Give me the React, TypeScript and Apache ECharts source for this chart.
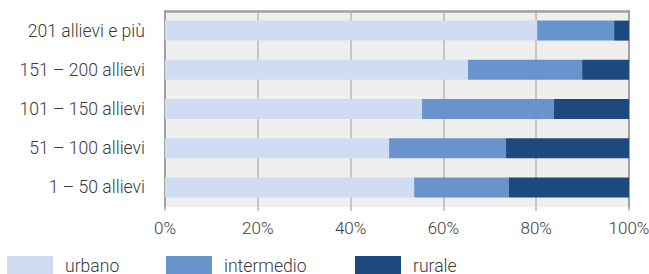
import React, { useEffect, useRef } from "react";
import * as echarts from "echarts";

const categories = ["1 – 50 allievi", "51 – 100 allievi", "101 – 150 allievi", "151 – 200 allievi", "201 allievi e più"];
const urbano = [53.7, 48.3, 55.4, 65.3, 80.2];
const intermedio = [20.4, 25.2, 28.4, 24.6, 16.6];
const rurale = [25.9, 26.5, 16.2, 10.1, 3.2];
const seriesNames = ["urbano", "intermedio", "rurale"];
const colors = ["#cfdcf2", "#6893cc", "#1c4a7e"];
const xTicks = [0, 20, 40, 60, 80, 100];

const FONT = "Roboto";
const TEXT = "#3a3a3a";
const FS = 17.6;
const FS_TICK = 17;

export default function App() {
  const ref = useRef<HTMLDivElement>(null);
  useEffect(() => {
    const chart = echarts.init(ref.current!, null, { renderer: "svg" });
    const values = [urbano, intermedio, rurale];
    const legendLefts = [2, 161, 350];
    chart.setOption({
      animation: false,
      grid: {
        left: 165,
        top: 11,
        width: 464,
        height: 196,
        show: true,
        backgroundColor: "#efefef",
        borderWidth: 0,
        containLabel: false,
        outerBoundsMode: "none",
      },
      legend: seriesNames.map((n, i) => ({
        data: [n],
        left: legendLefts[i],
        top: 251,
        itemWidth: 46,
        itemHeight: 20,
        icon: "rect",
        textStyle: { fontFamily: FONT, fontWeight: 300, fontSize: FS, color: TEXT, padding: [0, 0, 0, 7] },
      })),
      xAxis: [
        {
          type: "value",
          min: xTicks[0],
          max: xTicks[xTicks.length - 1],
          interval: 20,
          axisLine: { show: false },
          axisTick: { show: true, length: 4, lineStyle: { color: "#b4b4b4", width: 1.5 } },
          splitLine: { show: true, lineStyle: { color: "#b8b8b8", width: 1.5 } },
          axisLabel: {
            formatter: (v: number) => v + "%",
            fontFamily: FONT,
            fontWeight: 300,
            fontSize: FS_TICK,
            color: TEXT,
            margin: 12,
          },
        },
        {
          type: "value",
          position: "top",
          min: 0,
          max: 100,
          axisLine: { show: true, onZero: false, lineStyle: { color: "#a0a0a0", width: 2.5 } },
          axisTick: { show: false },
          axisLabel: { show: false },
          splitLine: { show: false },
        },
      ],
      yAxis: [
        {
          type: "category",
          data: categories,
          axisLine: { show: true, lineStyle: { color: "#a0a0a0", width: 2 } },
          axisTick: { show: false },
          axisLabel: { fontFamily: FONT, fontWeight: 300, fontSize: FS, color: TEXT, margin: 20 },
        },
        {
          type: "category",
          data: categories,
          position: "right",
          axisLine: { show: true, onZero: false, lineStyle: { color: "#a0a0a0", width: 2 } },
          axisTick: { show: false },
          axisLabel: { show: false },
        },
      ],
      series: seriesNames.map((n, i) => ({
        name: n,
        type: "bar",
        stack: "total",
        data: values[i],
        barWidth: 20,
        itemStyle: { color: colors[i] },
      })),
    });
    return () => chart.dispose();
  }, []);
  return <div ref={ref} style={{ width: 649, height: 274, position: "absolute", left: 0, top: 0 }} />;
}
